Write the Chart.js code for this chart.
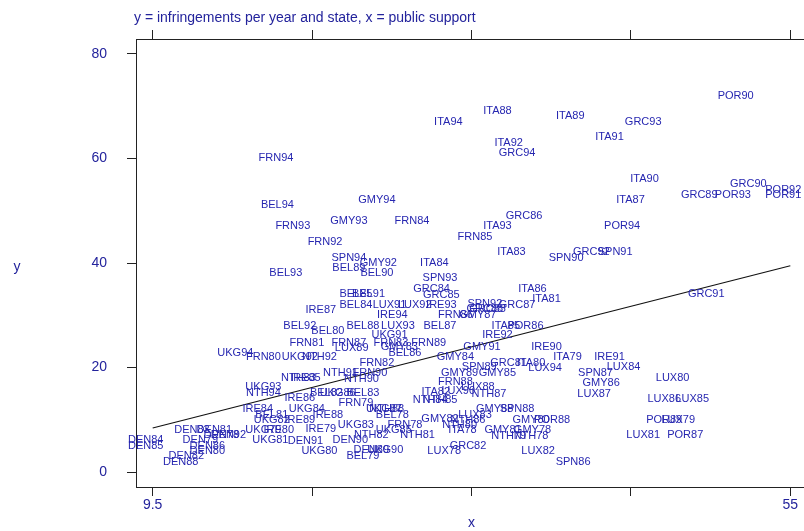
<!DOCTYPE html>
<html>
<head>
<meta charset="utf-8">
<script src="https://cdn.jsdelivr.net/npm/chart.js@4"></script>
<style>
  html, body { margin: 0; padding: 0; background: #fff; overflow: hidden; }
  canvas { display: block; }
</style>
</head>
<body>
<canvas id="c" width="830" height="531" style="width:830px;height:531px"></canvas>
<script>
// Country-year observations: infringements per year and state vs. public support
const pointLabels = [
  'POR90','ITA88','ITA89','ITA94','GRC93','ITA91','ITA92','GRC94','FRN94','ITA90',
  'GRC90','POR92','POR91','GRC89','POR93','ITA87','GMY94','BEL94','GRC86','GMY93',
  'FRN84','FRN93','ITA93','POR94','FRN85','FRN92','ITA83','GRC92','SPN91','SPN90',
  'SPN94','GMY92','ITA84','BEL89','BEL93','BEL90','SPN93','GRC84','ITA86','GRC91',
  'GRC85','BEL85','BEL91','ITA81','SPN92','GRC87','BEL84','LUX91','LUX92','IRE93',
  'GRC88','GRC83','IRE87','IRE94','FRN86','GMY87','BEL92','BEL88','LUX93','BEL87',
  'ITA85','BEL80','UKG91','IRE92','FRN81','FRN87','LUX89','FRN83','FRN89','GMY91',
  'IRE90','BEL86','UKG94','FRN80','UKG92','NTH92','GMY84','ITA79','IRE91','FRN82',
  'GRC81','ITA80','SPN89','LUX94','LUX84','NTH91','FRN90','GMY89','GMY85','SPN87',
  'NTH83','IRE85','NTH90','LUX80','FRN88','GMY86','UKG93','LUX88','LUX90','ITA82',
  'NTH94','BEL82','UKG86','BEL83','NTH87','LUX87','IRE86','NTH85','NTH84','LUX86',
  'LUX85','FRN79','IRE84','UKG84','UKG87','GMY88','SPN88','IRE88','BEL78','LUX83',
  'BEL81','UKG82','IRE89','GMY82','NTH86','GMY80','POR88','POR89','LUX79','UKG83',
  'FRN78','NTH80','DEN83','DEN81','IRE79','UKG85','ITA78','GMY81','GMY78','DEN78',
  'NTH82','NTH81','NTH79','NTH78','LUX81','POR87','DEN84','DEN79','DEN91','DEN90',
  'DEN85','DEN86','GRC82','DEN80','UKG80','DEN89','UKG90','LUX78','LUX82','DEN82',
  'BEL79','DEN88','SPN86','UKG81','UKG79','IRE80','POR86','GMY83','NTH88','DEN92'
];
const support = [
  51.6,34.6,39.8,31.1,45.0,42.6,35.4,36.0,18.8,45.1,
  52.5,55.0,55.0,49.0,51.4,44.1,26.0,18.9,36.5,24.0,
  28.5,20.0,34.6,43.5,33.0,22.3,35.6,41.3,43.0,39.5,
  24.0,26.1,30.1,24.0,19.5,26.0,30.5,29.9,37.1,49.5,
  30.6,24.5,25.4,38.1,33.7,36.0,24.5,26.9,28.7,30.6,
  33.7,33.9,22.0,27.1,31.6,33.2,20.5,25.0,27.5,30.5,
  35.2,22.5,26.9,34.6,21.0,24.0,24.2,27.0,29.7,33.5,
  38.1,28.0,15.9,17.9,20.5,21.9,31.6,39.6,42.6,26.0,
  35.4,37.0,33.3,38.0,43.6,23.4,25.5,31.9,34.6,41.6,
  20.4,20.9,24.9,47.1,31.6,42.0,17.9,33.2,31.8,30.2,
  17.9,22.4,23.2,25.0,34.0,41.5,20.5,30.5,29.8,46.5,
  48.5,24.5,17.5,21.0,26.5,34.4,36.0,22.5,27.1,33.0,
  18.5,18.5,20.5,30.5,32.5,37.0,38.5,46.5,47.5,24.5,
  28.0,31.9,12.8,14.4,22.0,27.2,32.1,35.0,37.1,14.9,
  25.6,28.9,35.4,37.0,45.0,48.0,9.5,13.4,20.9,24.1,
  9.5,13.9,32.5,13.9,21.9,25.6,26.6,30.8,37.5,12.4,
  25.0,12.0,40.0,18.4,17.9,19.0,36.6,27.6,26.7,15.4
];
const infringements = [
  72.0,69.1,68.1,67.0,67.0,64.1,63.0,61.1,60.1,56.1,
  55.1,54.0,53.0,53.0,53.0,52.1,52.1,51.1,49.0,48.0,
  48.0,47.1,47.1,47.1,45.0,44.0,42.1,42.1,42.1,41.0,
  41.0,40.0,40.0,39.0,38.1,38.1,37.1,35.0,35.0,34.1,
  33.9,34.1,34.1,33.1,32.2,32.0,32.0,32.0,32.0,32.0,
  31.2,31.2,31.0,30.0,30.0,30.0,27.9,27.9,27.9,27.9,
  27.9,27.0,26.2,26.2,24.7,24.7,23.7,24.7,24.7,23.9,
  23.9,22.8,22.8,22.0,22.0,22.0,22.0,22.0,22.0,20.9,
  20.9,20.9,20.1,19.9,20.1,18.9,18.9,18.9,18.9,18.9,
  18.0,18.0,17.8,18.0,17.2,17.0,16.3,16.3,15.5,15.3,
  15.1,15.1,15.1,15.1,14.9,14.9,14.2,13.8,13.8,14.0,
  14.0,13.2,12.1,12.1,12.1,12.1,12.1,10.9,10.9,10.9,
  10.9,10.0,10.0,10.1,10.0,10.0,10.0,10.0,10.0,9.0,
  9.0,9.0,8.0,8.0,8.2,8.0,8.0,8.0,8.0,7.1,
  7.1,7.1,6.9,6.9,7.1,7.1,6.1,6.1,5.9,6.1,
  5.0,5.0,5.0,4.0,4.0,4.2,4.2,4.0,4.0,3.1,
  3.1,1.9,1.9,6.1,8.0,8.0,27.9,23.9,12.1,7.1
];

// Axis ticks
const xTicks = [9.5, 20.875, 32.25, 43.625, 55];
const xTickLabels = ['9.5', '', '', '', '55'];
const yTicks = [0, 20, 40, 60, 80];

// Fitted line across the observed range of public support
const fitX = [9.5, 55];
const fitY = [8.42, 39.48];

const TEXT_BLUE = '#23239c';
const LABEL_BLUE = '#2626b0';
const AXIS_COLOR = '#222';
const FONT = '"Liberation Sans", Arial, Helvetica, sans-serif';

const CANVAS_W = 830, CANVAS_H = 531;

const pointText = {
  id: 'pointText',
  afterDatasetsDraw(chart) {
    const meta = chart.getDatasetMeta(1);
    const ctx = chart.ctx;
    ctx.save();
    ctx.font = '11px ' + FONT;
    ctx.fillStyle = LABEL_BLUE;
    ctx.textAlign = 'center';
    ctx.textBaseline = 'middle';
    meta.data.forEach((el, i) => {
      ctx.fillText(pointLabels[i], el.x - 7, el.y);
    });
    ctx.restore();
  }
};

const headings = {
  id: 'headings',
  afterDraw(chart) {
    const ctx = chart.ctx;
    const a = chart.chartArea;
    ctx.save();
    ctx.font = '14px ' + FONT;
    ctx.fillStyle = TEXT_BLUE;
    ctx.textBaseline = 'middle';
    ctx.textAlign = 'left';
    ctx.fillText('y = infringements per year and state, x = public support', a.left - 2, 18);
    ctx.textAlign = 'center';
    ctx.fillText('y', 17, (a.top + a.bottom) / 2 + 4);
    const xs = chart.scales.x;
    ctx.fillText('x', (xs.getPixelForValue(9.5) + xs.getPixelForValue(55)) / 2, 523);
    ctx.restore();
  }
};

function fixedTicks(values) {
  return (scale) => { scale.ticks = values.map(v => ({ value: v })); };
}

const gridOpts = { drawOnChartArea: false, drawTicks: true, tickLength: 9, color: AXIS_COLOR, lineWidth: 1 };
const borderOpts = { display: true, color: AXIS_COLOR, width: 1 };

new Chart(document.getElementById('c'), {
  type: 'scatter',
  data: {
    datasets: [
      {
        type: 'line',
        data: fitX.map((x, i) => ({ x, y: fitY[i] })),
        borderColor: '#111',
        borderWidth: 1.2,
        pointRadius: 0,
        fill: false,
        tension: 0
      },
      {
        data: support.map((x, i) => ({ x, y: infringements[i] })),
        pointRadius: 0,
        pointHoverRadius: 0,
        showLine: false
      }
    ]
  },
  options: {
    responsive: false,
    animation: false,
    devicePixelRatio: 1,
    layout: { padding: 0 },
    plugins: { legend: { display: false }, tooltip: { enabled: false }, title: { display: false } },
    scales: {
      x: {
        type: 'linear', position: 'bottom', min: 8.31, max: 56.19,
        afterBuildTicks: fixedTicks(xTicks),
        afterFit: (s) => { s.height = 44; },
        grid: gridOpts, border: borderOpts,
        ticks: {
          autoSkip: false, maxRotation: 0, padding: 1, color: TEXT_BLUE,
          font: { family: FONT, size: 14 },
          callback: (v, i) => xTickLabels[i]
        }
      },
      xTop: {
        type: 'linear', position: 'top', min: 8.31, max: 56.19,
        afterBuildTicks: fixedTicks(xTicks),
        afterFit: (s) => { s.height = 39; },
        grid: gridOpts, border: borderOpts,
        ticks: { autoSkip: false, maxRotation: 0, callback: () => '' }
      },
      y: {
        type: 'linear', position: 'left', min: -2.87, max: 82.87,
        afterBuildTicks: fixedTicks(yTicks),
        afterFit: (s) => { s.width = 136; },
        grid: gridOpts, border: borderOpts,
        ticks: {
          autoSkip: false, padding: 20, color: TEXT_BLUE,
          font: { family: FONT, size: 14 },
          callback: (v) => String(v)
        }
      },
      yRight: {
        type: 'linear', position: 'right', min: -2.87, max: 82.87,
        afterBuildTicks: fixedTicks(yTicks),
        afterFit: (s) => { s.width = CANVAS_W - 807; },
        grid: gridOpts, border: borderOpts,
        ticks: { autoSkip: false, callback: () => '' }
      }
    }
  },
  plugins: [pointText, headings]
});
</script>
</body>
</html>
